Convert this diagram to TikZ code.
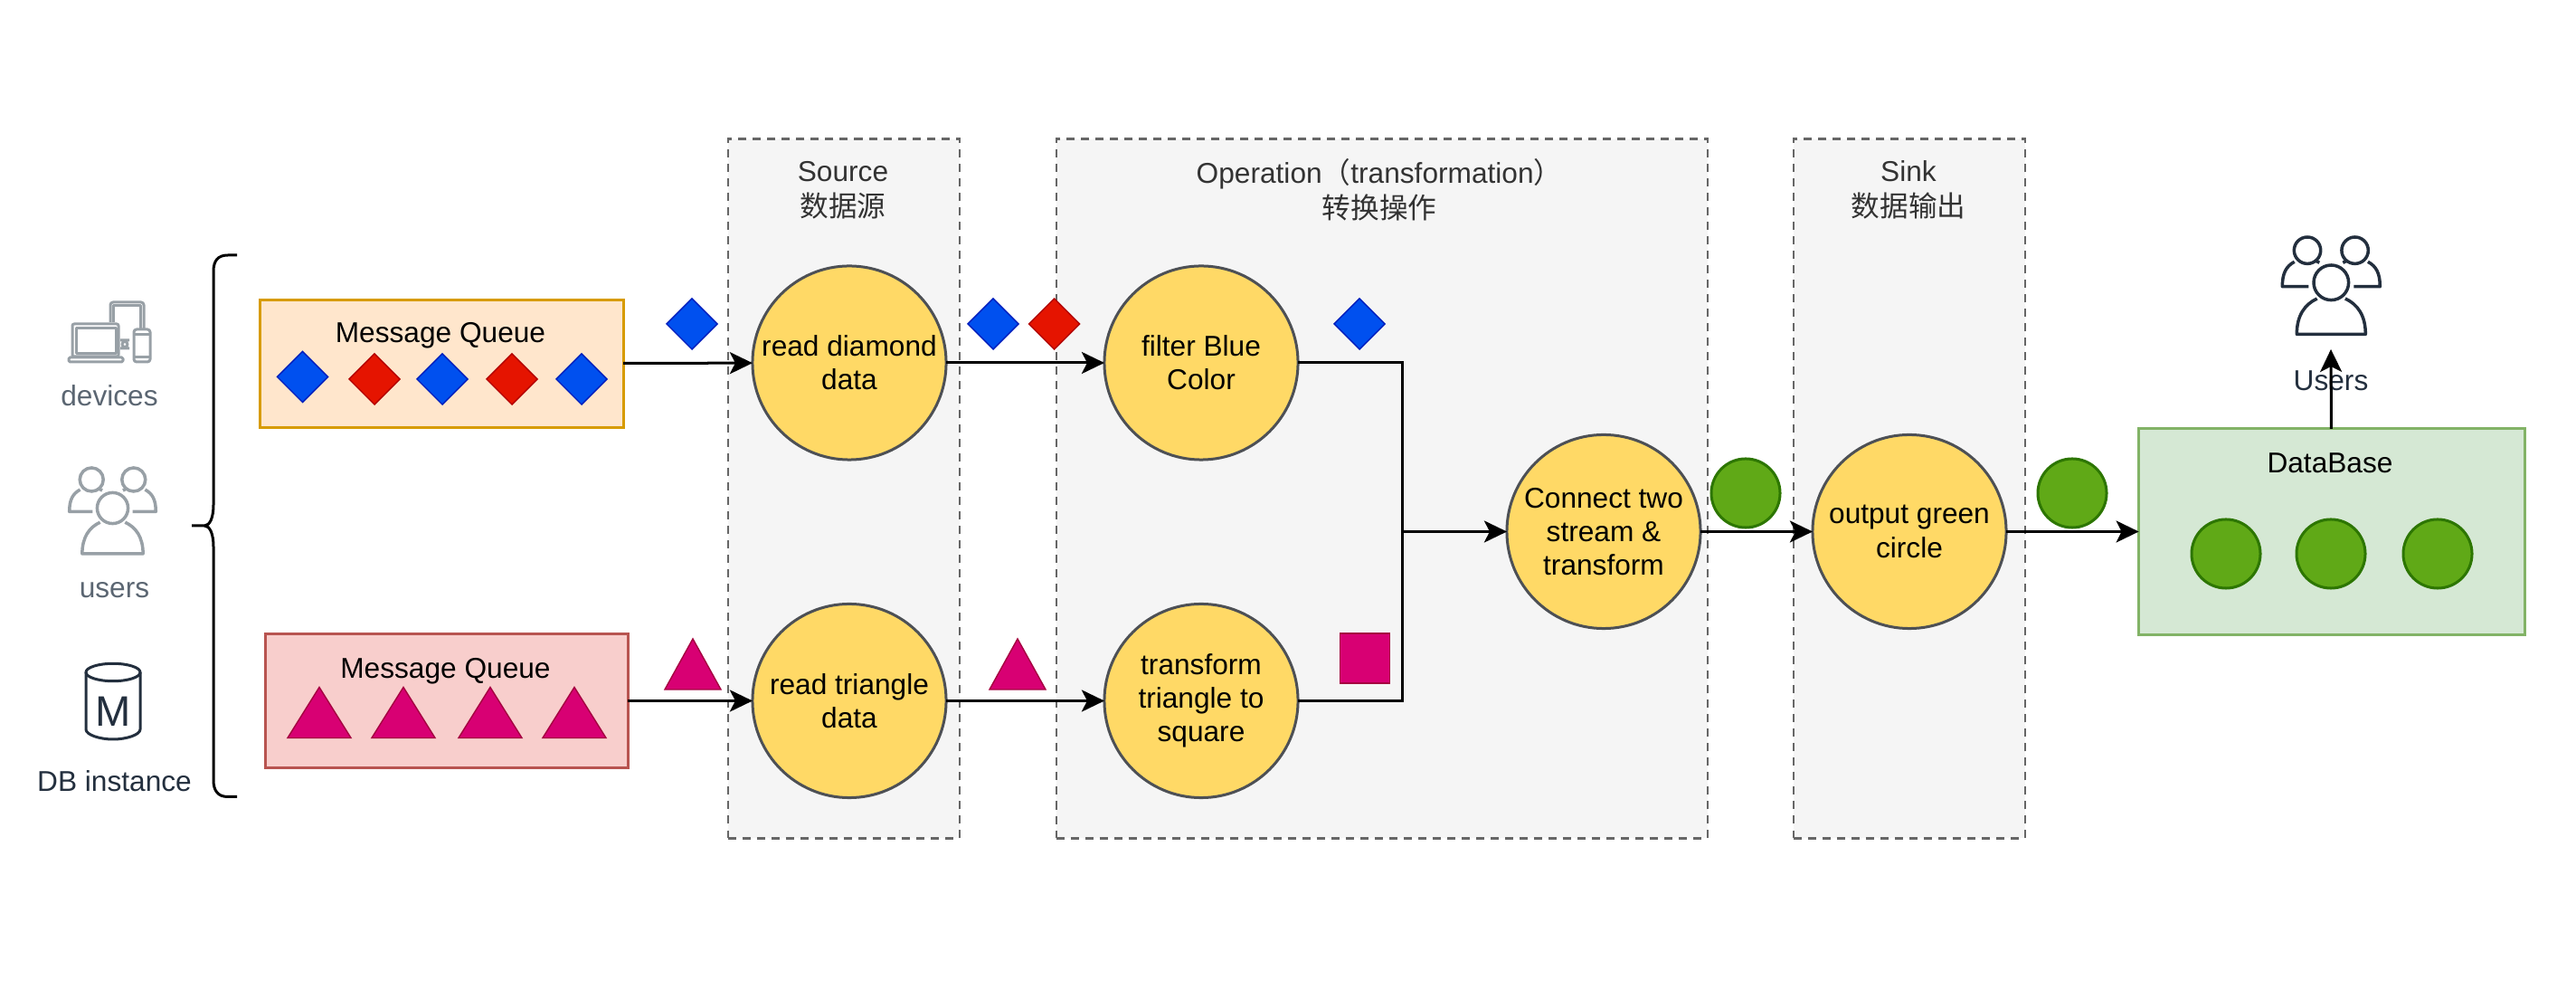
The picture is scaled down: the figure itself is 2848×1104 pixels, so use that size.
\documentclass[tikz,border=0pt]{standalone}
\usepackage{fontspec}
\setmainfont{Liberation Sans}
\newfontfamily\cjk{Noto Sans CJK SC}
\newfontfamily\iconletter[AutoFakeBold=1.5]{Liberation Sans}
\usetikzlibrary{shapes.geometric,arrows.meta}
\definecolor{gblue}{HTML}{0050EF}
\definecolor{gbluel}{HTML}{001DBC}
\definecolor{gred}{HTML}{E51400}
\definecolor{gredl}{HTML}{B20000}
\definecolor{gpink}{HTML}{D80073}
\definecolor{gpinkl}{HTML}{A50040}
\definecolor{ggreen}{HTML}{60A917}
\definecolor{ggreenl}{HTML}{2D7600}
\definecolor{iconlight}{HTML}{98A0A6}
\definecolor{textlight}{HTML}{5B6672}
\definecolor{icondark}{HTML}{232F3E}
\definecolor{stepfill}{HTML}{FFD966}
\definecolor{stepline}{HTML}{4D5055}
\tikzset{
  every node/.style={font=\fontsize{9}{10.6}\selectfont,align=center,inner sep=0pt,outer sep=0pt},
  thickline/.style={line width=0.03cm},
  flow/.style={thickline,-{Stealth[length=0.25cm,width=0.24cm,inset=0.06cm]}},
  groupbox/.style={draw=black!60,fill=black!4,dash pattern=on 0.09cm off 0.07cm,line width=0.025cm},
  grouptitle/.style={text=black!80,font=\fontsize{9}{11}\selectfont},
  stepcircle/.style={circle,draw=stepline,fill=stepfill,thickline,minimum size=2.14cm},
  bluediamond/.style={diamond,fill=gblue,draw=gbluel,minimum size=0.56cm},
  reddiamond/.style={diamond,fill=gred,draw=gredl,minimum size=0.56cm},
  pinktri/.style={isosceles triangle,isosceles triangle stretches,shape border rotate=90,anchor=lower side,
    fill=gpink,draw=gpinkl,minimum height=0.56cm,minimum width=0.70cm},
  greencircle/.style={circle,fill=ggreen,draw=ggreenl,thickline,minimum size=0.76cm},
  peopleicon/.pic={
    \draw[line width=0.035cm] (-26.3,-35.6) circle (14.7) (26.3,-35.6) circle (14.7) (0,0) circle (19.3);
    \draw[line width=0.035cm,line join=round] (-15.6,17.7) .. controls (-29,24) and (-38,36) .. (-38,57) -- (38,57)
      .. controls (38,36) and (29,24) .. (15.6,17.7);
    \draw[line width=0.035cm,line join=round] (-25,4.4) -- (-54,4.4) .. controls (-54,-10) and (-50,-18) .. (-40.6,-23);
    \draw[line width=0.035cm,line join=round] (25,4.4) -- (54,4.4) .. controls (54,-10) and (50,-18) .. (40.6,-23);
    \draw[line width=0.035cm] (-18,-24.5) -- (-13,-22) (18,-24.5) -- (13,-22);
  },
}
\begin{document}
\begin{tikzpicture}[x=0.01cm,y=-0.01cm]
 \useasboundingbox (0,0) rectangle (2848,1104);

 % dashed groups
 \node[groupbox,minimum width=2.56cm,minimum height=7.725cm] (sourceGroup) at (933,540) {};
 \node[groupbox,minimum width=7.20cm,minimum height=7.725cm] (operationGroup) at (1528,540) {};
 \node[groupbox,minimum width=2.56cm,minimum height=7.725cm] (sinkGroup) at (2111,540) {};
 \node[grouptitle] (sourceTitle) at (932,210) {Source\\{\cjk 数据源}};
 \node[grouptitle] (operationTitle) at (1525,209.5) {Operation{\cjk （}transformation{\cjk ）}\\{\cjk 转换操作}};
 \node[grouptitle] (sinkTitle) at (2110,210) {Sink\\{\cjk 数据输出}};

 % left side labels and icons
 \node[text=textlight] (devicesLabel) at (121,437) {devices};
 \node[text=textlight] (usersLabel) at (126.5,652) {users};
 \node[text=icondark] (dbLabel) at (126.5,863.5) {DB instance};
 \begin{scope}[draw=iconlight,thickline,line join=round]
  \draw[rounded corners=0.02cm] (80,394) rectangle (131,358); %laptop
  \draw (84,391) rectangle (128,363);
  \draw[rounded corners=0.015cm] (76,395) rectangle (136,400);
  \draw[rounded corners=0.03cm] (122,356) |- (159,334) -- (159,364); %tablet
  \draw (125.5,356) |- (155.5,338) -- (155.5,364);
  \draw[rounded corners=0.03cm] (148,364) rectangle (166,400); %phone
  \draw (148,370) -- (166,370) (148,395) -- (166,395);
  \draw (133,376) -- (143,376) (133,385) -- (143,385) (138,380.5) circle (3);
 \end{scope}
 \pic[draw=iconlight,scale=0.885] at (124.5,561.5) {peopleicon};
 \begin{scope}[draw=icondark,thickline]
  \draw (125,743) ellipse (30 and 9.7); %db can
  \draw (95,743) -- (95,806) .. controls (95,812) and (110,817) .. (125,817)
    .. controls (140,817) and (155,812) .. (155,806) -- (155,743);
 \end{scope}
 \node[text=icondark,font=\iconletter\fontsize{13.4}{14}\selectfont] (dbLetter) at (125,786) {M};
 \coordinate (braceTop) at (262,282);
 \coordinate (braceTip) at (212,581);
 \coordinate (braceBot) at (262,880.5);
 \draw[thickline] (braceTop) -- (252,282) .. controls (241,282) and (236,288) .. (236,300) -- (236,558)
   .. controls (236,572) and (232,581) .. (226,581) -- (braceTip) -- (226,581)
   .. controls (232,581) and (236,590) .. (236,604) -- (236,862) .. controls (236,874) and (241,880.5) .. (252,880.5) -- (braceBot);

 % message queues
 \node[draw={rgb,255:red,215;green,155;blue,0},fill={rgb,255:red,255;green,230;blue,204},thickline,minimum width=4.01cm,minimum height=1.405cm] (queueTop) at (488.5,401.75) {};
 \node[draw={rgb,255:red,184;green,84;blue,80},fill={rgb,255:red,248;green,206;blue,204},thickline,minimum width=4.00cm,minimum height=1.47cm] (queueBot) at (494,774.5) {};
 \node (queueTopText) at (487,371) {Message Queue};
 \node (queueBotText) at (492.5,742) {Message Queue};
 \node[bluediamond] (topA) at (334.5,416.5) {};
 \node[reddiamond] (topB) at (414,419) {};
 \node[bluediamond] (topC) at (489,419) {};
 \node[reddiamond] (topD) at (566,419) {};
 \node[bluediamond] (topE) at (643,419) {};
 \foreach \i/\x in {A/353,B/446,C/542,D/635}
  \node[pinktri] (bot\i) at (\x,815.5) {};

 % steps
 \node[stepcircle] (readDiamond) at (939,401) {read diamond\\data};
 \node[stepcircle] (readTriangle) at (939,774.5) {read triangle\\data};
 \node[stepcircle] (filterBlue) at (1328,401) {filter Blue\\Color};
 \node[stepcircle] (transformTri) at (1328,774.5) {transform\\triangle to\\square};
 \node[stepcircle] (connectStream) at (1773,587.5) {Connect two\\stream \&\\transform};
 \node[stepcircle] (outputGreen) at (2111,587.5) {output green\\circle};
 \coordinate (joinPoint) at (1550,587.5);

 % database and users
 \node[draw={rgb,255:red,130;green,179;blue,102},fill={rgb,255:red,213;green,232;blue,212},thickline,minimum width=4.265cm,minimum height=2.27cm] (dataBase) at (2578,587.5) {};
 \node (dataBaseText) at (2576,512) {DataBase};
 \foreach \i/\x in {A/2461,B/2577,C/2695}
  \node[greencircle] (store\i) at (\x,612) {};
 \node[text=icondark] (usersTitle) at (2577,421) {Users};
 \pic[draw=icondark] at (2577.3,312.3) {peopleicon};
 \coordinate (usersIn) at (2577,386);

 % connectors
 \draw[flow] (queueTop) -- (readDiamond);
 \draw[flow] (queueBot) -- (readTriangle);
 \draw[flow] (readDiamond) -- (filterBlue);
 \draw[flow] (readTriangle) -- (transformTri);
 \draw[thickline] (filterBlue.east) -| (joinPoint);
 \draw[thickline] (transformTri.east) -| (joinPoint);
 \draw[flow] (joinPoint) -- (connectStream);
 \draw[flow] (connectStream) -- (outputGreen);
 \draw[flow] (outputGreen) -- (dataBase);
 \draw[flow] (dataBase) -- (usersIn);

 % data moving along the connectors
 \node[bluediamond] (moveA) at (765,358) {};
 \node[bluediamond] (moveB) at (1098,358) {};
 \node[reddiamond] (moveC) at (1165.6,358) {};
 \node[bluediamond] (moveD) at (1503,358) {};
 \node[pinktri,minimum width=0.62cm] (moveE) at (766,762) {};
 \node[pinktri,minimum width=0.62cm] (moveF) at (1125,762) {};
 \node[fill=gpink,draw=gpinkl,minimum size=0.55cm] (moveG) at (1509,727.5) {};
 \node[greencircle] (moveH) at (1930,545) {};
 \node[greencircle] (moveI) at (2291,545) {};
\end{tikzpicture}
\end{document}
